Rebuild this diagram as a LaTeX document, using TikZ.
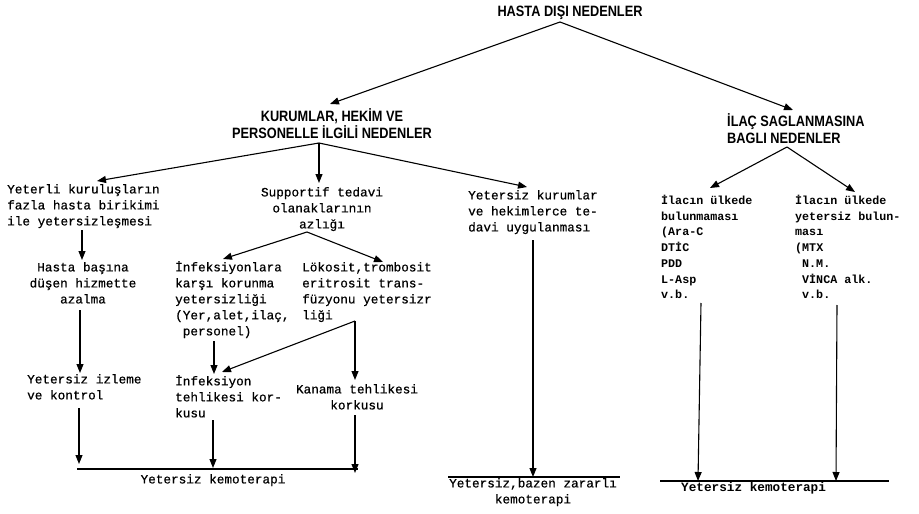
\documentclass[tikz,border=0pt]{standalone}
\usepackage{fontspec}
\usetikzlibrary{arrows.meta}
\newfontfamily\hdrfont[FakeStretch=0.85]{Liberation Sans}
\newfontfamily\twfont[FakeBold=0.6]{Liberation Mono}
\newfontfamily\twbfont{Liberation Mono}
\newcommand{\hdr}{\hdrfont\bfseries\fontsize{15}{17}\selectfont}
\newcommand{\twr}{\twfont\fontsize{12.7}{16}\selectfont}
\newcommand{\twb}{\twbfont\bfseries\fontsize{11.7}{15.7}\selectfont}
\newcommand{\twbl}{\twbfont\bfseries\fontsize{12.7}{16}\selectfont}
\tikzset{
  hdrbox/.style={font=\hdr, align=center, inner sep=0pt},
  txtl/.style={font=\twr, align=left, inner sep=0pt, anchor=north west},
  txtc/.style={font=\twr, align=center, inner sep=0pt, anchor=north},
  txtb/.style={font=\twb, align=left, inner sep=0pt, anchor=north west},
  arr/.style={line width=1.1pt, -{Triangle[length=9pt,width=7pt]}},
  baseln/.style={line width=1.1pt}
}
\begin{document}
\begin{tikzpicture}[x=1pt,y=-1pt]
\fill[white] (0,0) rectangle (919,514);
\useasboundingbox (0,0) rectangle (919,514);

% headers
\node[hdrbox] (title) at (570,13) {HASTA DIŞI NEDENLER};
\node[hdrbox] (kur) at (332,124) {KURUMLAR, HEKİM VE\\PERSONELLE İLGİLİ NEDENLER};
\node[hdrbox, align=left, anchor=west] (ila) at (727,129) {İLAÇ SAGLANMASINA\\BAGLI NEDENLER};

% left column
\node[txtl] (yet) at (7,184) {Yeterli kuruluşların\\fazla hasta birikimi\\ile yetersizleşmesi};
\node[txtc] (hb) at (83,262) {Hasta başına\\düşen hizmette\\azalma};
\node[txtl] (yiz) at (27,374) {Yetersiz izleme\\ve kontrol};

% supportif
\node[txtc] (sup) at (322,187) {Supportif tedavi\\olanaklarının\\azlığı};
\node[txtl] (inf) at (175,261) {İnfeksiyonlara\\karşı korunma\\yetersizliği\\(Yer,alet,ilaç,\\\hspace*{7.6pt}personel)};
\node[txtl] (lok) at (302,262) {Lökosit,trombosit\\eritrosit trans-\\füzyonu yetersizr\\liği};
\node[txtl] (inft) at (175,375) {İnfeksiyon\\tehlikesi kor-\\kusu};
\node[txtc] (kan) at (357,384) {Kanama tehlikesi\\korkusu};

% middle
\node[txtl] (ykur) at (468,190) {Yetersiz kurumlar\\ve hekimlerce te-\\davi uygulanması};

% right
\node[txtb] (ilb) at (661,195) {İlacın ülkede\\bulunmaması\\(Ara-C\\DTİC\\PDD\\L-Asp\\v.b.};
\node[txtb] (ily) at (795,195) {İlacın ülkede\\yetersiz bulun-\\ması\\(MTX\\\hspace*{7pt}N.M.\\\hspace*{7pt}VİNCA alk.\\\hspace*{7pt}v.b.};

% bottom results
\node[txtc] (kem1) at (213,474) {Yetersiz kemoterapi};
\node[txtc] (kem2) at (533,478) {Yetersiz,bazen zararlı\\kemoterapi};
\node[txtb, font=\twbl] (kem3) at (681,482) {Yetersiz kemoterapi};

% coordinates
\coordinate (ap0) at (560,22);
\coordinate (kurT) at (330,104);
\coordinate (ilaT) at (793,110);
\coordinate (ap1) at (319,143);
\coordinate (yetT) at (97,181);
\coordinate (supT) at (319,183);
\coordinate (ykurT) at (527,187);
\coordinate (ap2) at (787,147);
\coordinate (ilbT) at (710,188);
\coordinate (ilyT) at (855,192);
\coordinate (ap3) at (307,232);
\coordinate (infT) at (223,259);
\coordinate (lokT) at (383,262);
\coordinate (ap4) at (355,321);
\coordinate (inftT) at (222,372);
\coordinate (kanT) at (355,380);

% bottom lines
\coordinate (b1L) at (77,469);
\coordinate (b1R) at (358,469);
\coordinate (b2L) at (448,477);
\coordinate (b2R) at (620,477);
\coordinate (b3L) at (660,481);
\coordinate (b3R) at (889,481);
\draw[baseln] (b1L) -- (b1R);
\draw[baseln] (b2L) -- (b2R);
\draw[baseln] (b3L) -- (b3R);

% connectors
\draw[arr] (ap0) -- (kurT);
\draw[arr] (ap0) -- (ilaT);
\draw[arr] (ap1) -- (yetT);
\draw[arr] (ap1) -- (supT);
\draw[arr] (ap1) -- (ykurT);
\draw[arr] (ap2) -- (ilbT);
\draw[arr] (ap2) -- (ilyT);
\draw[arr] (82,230) -- (82,260);
\draw[arr] (80,310) -- (80,373);
\draw[arr] (79,408) -- (79,464);
\draw[arr] (ap3) -- (infT);
\draw[arr] (ap3) -- (lokT);
\draw[arr] (214,341) -- (214,374);
\draw[arr] (ap4) -- (inftT);
\draw[arr] (ap4) -- (kanT);
\draw[arr] (213,420) -- (213,468);
\draw[arr] (355,415) -- (355,473);
\draw[arr] (533,240) -- (533,477);
\draw[arr] (701,303) -- (698,481);
\draw[arr] (837,305) -- (836,481);
\end{tikzpicture}
\end{document}
